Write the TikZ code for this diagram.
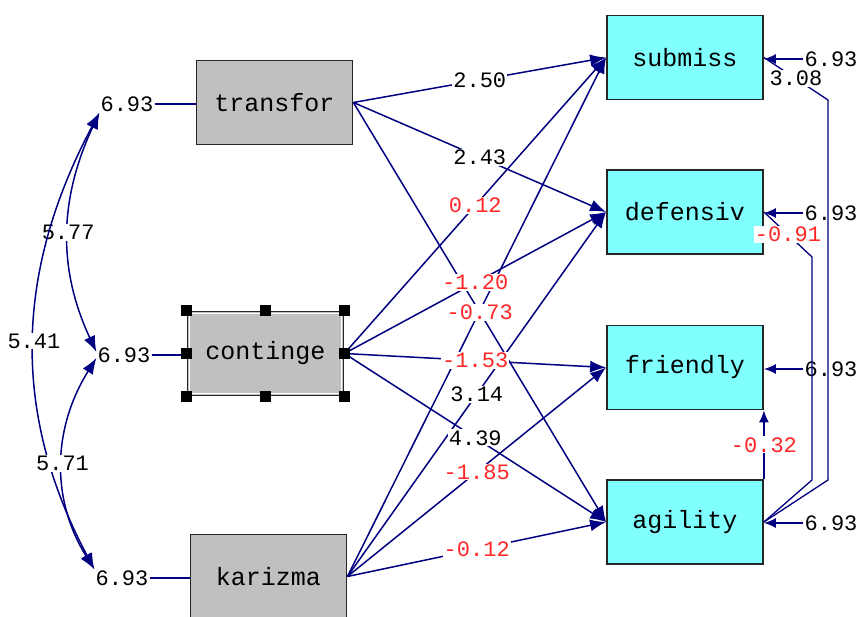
\documentclass[tikz,border=0pt]{standalone}
\usepackage{fontspec}
\usepackage{tikz}
\usetikzlibrary{arrows.meta, calc}
\newfontfamily\lisfont{Liberation Mono}
\definecolor{pathnavy}{HTML}{000080}
\definecolor{tred}{HTML}{FF2626}
\definecolor{exogray}{HTML}{C0C0C0}
\definecolor{endocyan}{HTML}{80FFFF}
\definecolor{boxrim}{HTML}{262626}

\begin{document}
\begin{tikzpicture}[
  x=1pt, y=-1pt,
  >={Latex[length=16pt,width=12pt]},
  exo/.style={draw=boxrim, line width=1.8pt, fill=exogray, inner sep=0pt,
              minimum width=156pt, minimum height=84pt,
              font=\lisfont\fontsize{25}{25}\selectfont},
  endo/.style={exo, fill=endocyan},
  link/.style={draw=pathnavy, line width=1.5pt},
  gamma/.style={link, ->},
  cov/.style={link, <->},
  psi/.style={link, line width=1.3pt},
  errarrow/.style={link, ->, >={Latex[length=12pt,width=10pt]}},
  coef/.style={fill=white, inner sep=1pt, font=\lisfont\fontsize{22}{22}\selectfont},
  varlab/.style={inner sep=1pt, font=\lisfont\fontsize{22}{22}\selectfont},
  handle/.style={fill=black, minimum size=11pt, inner sep=0pt},
]
  \useasboundingbox[fill=white] (0,0) rectangle (857,617);

  % Exogenous variables
  \node[exo] (transfor) at (274.5,102.5) {transfor};
  \node[exo] (continge) at (265.5,353.5) {continge};
  \node[exo] (karizma) at (268.5,576.5) {karizma};
  \draw[white, line width=1pt] ($(continge.north west)+(3,3)$) rectangle ($(continge.south east)+(-3,-3)$);

  % Endogenous variables
  \node[endo] (submiss) at (685,57.5) {submiss};
  \node[endo] (defensiv) at (685,212) {defensiv};
  \node[endo] (friendly) at (685,367.5) {friendly};
  \node[endo] (agility) at (685,522) {agility};

  % Variances of the exogenous variables
  \node[varlab] (tvar) at (127,104) {6.93};
  \node[varlab] (cvar) at (124,355) {6.93};
  \node[varlab] (kvar) at (122,578) {6.93};
  \draw[link] (tvar.east) -- (tvar.east -| transfor.west);
  \draw[link] (cvar.east) -- (cvar.east -| continge.west);
  \draw[link] (kvar.east) -- (kvar.east -| karizma.west);

  % Covariances
  \draw[cov] (tvar.south west) to[out=245, in=115] node[coef] {5.77} ([yshift=3pt]cvar.west);
  \draw[cov] (tvar.south west) to[out=242, in=118] node[coef] {5.41} (kvar.north west);
  \draw[cov] ([yshift=-3pt]cvar.west) to[out=238, in=122] node[coef] {5.71} (kvar.north west);

  % Paths
  \foreach \src/\dst in {transfor/submiss, transfor/defensiv, transfor/agility,
                         continge/submiss, continge/defensiv, continge/friendly, continge/agility,
                         karizma/submiss, karizma/defensiv, karizma/friendly, karizma/agility}
    \draw[gamma] (\src.east) -- (\dst.west);
  \foreach \src/\dst/\val/\col in {transfor/submiss/2.50/black, transfor/defensiv/2.43/black,
                                   transfor/agility/-0.73/tred, continge/submiss/0.12/tred,
                                   continge/defensiv/-1.20/tred, continge/friendly/-1.53/tred,
                                   continge/agility/4.39/black, karizma/defensiv/3.14/black,
                                   karizma/friendly/-1.85/tred, karizma/agility/-0.12/tred}
    \path (\src.east) -- node[coef, text=\col] {\val} (\dst.west);

  % Error variances
  \node[varlab] (esub) at (831,59) {6.93};
  \node[varlab] (edef) at (831,213) {6.93};
  \node[varlab] (efri) at (831,369) {6.93};
  \node[varlab] (eagi) at (831,523) {6.93};
  \foreach \e/\v in {esub/submiss, edef/defensiv, efri/friendly, eagi/agility}
    \draw[errarrow] (\e.west) -- (\e.west -| \v.east);

  % Error covariances
  \coordinate (k1) at (828,100);
  \coordinate (k2) at (828,480);
  \coordinate (k3) at (812,257);
  \coordinate (k4) at (812,480);
  \draw[psi] (submiss.east) -- node[coef] {3.08} (k1) -- (k2) -- (agility.east);
  \draw[psi] (defensiv.east) -- node[coef, text=tred] {-0.91} (k3) -- (k4) -- (agility.east);
  \draw[psi, ->, >={Latex[length=12pt,width=10pt]}] (agility.north east) -- node[coef, text=tred] {-0.32} (friendly.south east);

  % Selection handles
  \foreach \a [count=\i] in {north west, north, north east, west, east, south west, south, south east}
    \node[handle] (hdl\i) at (continge.\a) {};
\end{tikzpicture}
\end{document}
